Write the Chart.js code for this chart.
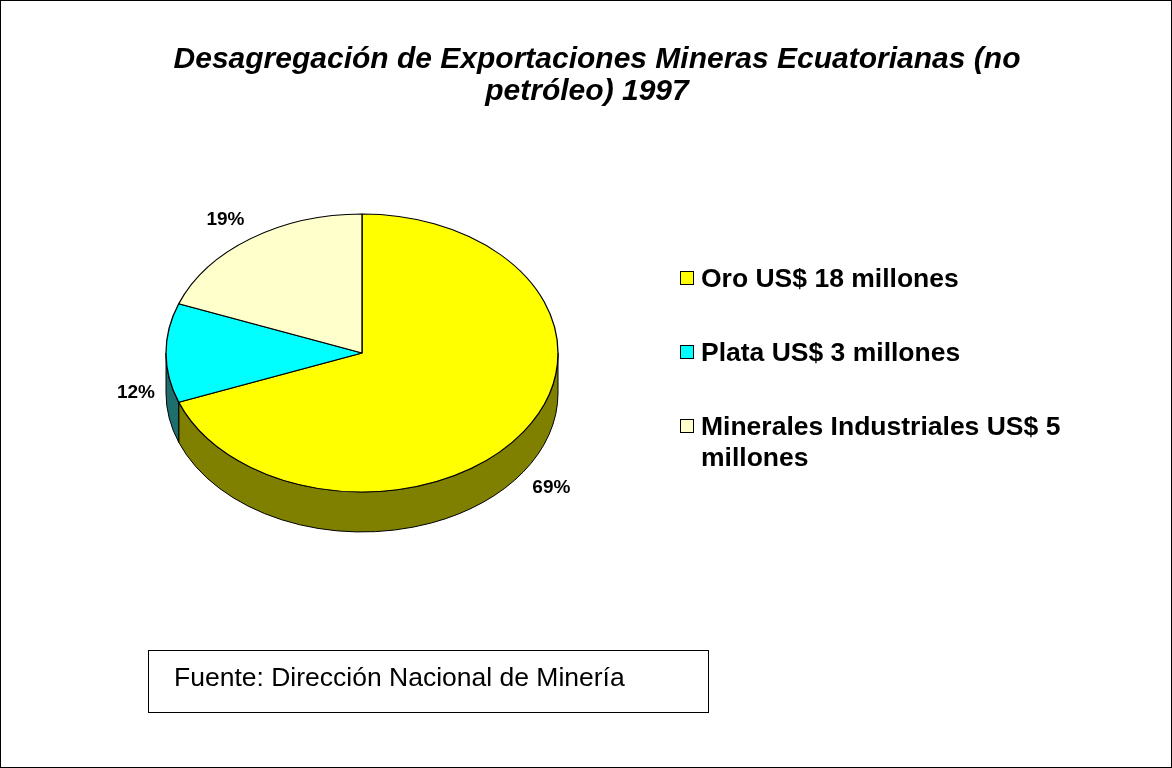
<!DOCTYPE html>
<html>
<head>
<meta charset="utf-8">
<script src="https://cdn.jsdelivr.net/npm/chart.js@4/dist/chart.umd.min.js"></script>
<style>
    body { margin: 0; background: #fff; }
    #frame {
        position: relative;
        width: 1172px;
        height: 768px;
        box-sizing: border-box;
        border: 1px solid #000;
        overflow: hidden;
        font-family: "Liberation Sans", Arial, sans-serif;
    }
    #chart { position: absolute; left: 0; top: 0; }
    #title {
        position: absolute;
        left: 46px;
        width: 1100px;
        top: 41px;
        text-align: center;
        font-size: 30px;
        line-height: 32px;
        font-weight: bold;
        font-style: italic;
    }
    #title .line2 { position: relative; left: -10px; }
    #legend {
        position: absolute;
        left: 679px;
        top: 262px;
        width: 420px;
    }
    .legend-item {
        display: flex;
        align-items: flex-start;
        margin-bottom: 43px;
    }
    .legend-box {
        flex: none;
        width: 12px;
        height: 12px;
        border: 1px solid #000;
        margin-top: 8px;
        margin-right: 7px;
    }
    .legend-text {
        width: 390px;
        font-size: 26.5px;
        line-height: 31px;
        font-weight: bold;
    }
    #source {
        position: absolute;
        left: 147px;
        top: 649px;
        width: 561px;
        height: 63px;
        box-sizing: border-box;
        border: 1px solid #000;
        padding-left: 25px;
        font-size: 26.5px;
        line-height: 52px;
    }
</style>
</head>
<body>
<div id="frame">
    <canvas id="chart" width="1172" height="768"></canvas>
    <div id="title">Desagregación de Exportaciones Mineras Ecuatorianas (no<br><span class="line2">petróleo) 1997</span></div>
    <div id="legend"></div>
    <div id="source">Fuente: Dirección Nacional de Minería</div>
</div>

<script>
const categories = ['Oro US$ 18 millones', 'Plata US$ 3 millones', 'Minerales Industriales US$ 5 millones'];
const values = [18, 3, 5];
const topColors = ['#FFFF00', '#00FFFF', '#FFFFCC'];
const sideColors = ['#808000', '#1E6E6E', '#808066'];

const tilt = 0.709;
const depth = 40;

const total = values.reduce((a, b) => a + b, 0);
const percentLabels = values.map(v => Math.round(v / total * 100) + '%');


function buildLegend() {
    let html = '';
    for (let i = 0; i < categories.length; i++) {
        html += `<div class="legend-item">
            <span class="legend-box" style="background:${topColors[i]}"></span>
            <span class="legend-text">${categories[i]}</span>
        </div>`;
    }
    document.getElementById('legend').innerHTML = html;
}


// draws the pie squashed into an ellipse, with a side wall underneath
const pie3d = {
    id: 'pie3d',
    beforeDatasetsDraw(chart) {
        const ctx = chart.ctx;
        const arcs = chart.getDatasetMeta(0).data;
        const cx = arcs[0].x, cy = arcs[0].y, r = arcs[0].outerRadius;
        const ry = r * tilt;

        ctx.save();
        ctx.lineWidth = 1;
        ctx.strokeStyle = '#000';
        arcs.forEach((arc, i) => {
            let a1 = Math.max(arc.startAngle, 0);
            let a2 = Math.min(arc.endAngle, Math.PI);
            if (a2 <= a1) return;
            ctx.beginPath();
            ctx.ellipse(cx, cy, r, ry, 0, a1, a2);
            ctx.ellipse(cx, cy + depth, r, ry, 0, a2, a1, true);
            ctx.closePath();
            ctx.fillStyle = sideColors[i];
            ctx.fill();
            ctx.stroke();
        });
        ctx.restore();

        ctx.save();
        ctx.translate(cx, cy);
        ctx.scale(1, tilt);
        ctx.translate(-cx, -cy);
    },
    afterDatasetsDraw(chart) {
        const ctx = chart.ctx;
        ctx.restore();

        const arcs = chart.getDatasetMeta(0).data;
        const cx = arcs[0].x, cy = arcs[0].y, r = arcs[0].outerRadius;
        const ry = r * tilt;

        ctx.save();
        ctx.font = 'bold 19px "Liberation Sans", Arial, sans-serif';
        ctx.fillStyle = '#000';
        ctx.textBaseline = 'middle';
        arcs.forEach((arc, i) => {
            const mid = (arc.startAngle + arc.endAngle) / 2;
            const dx = Math.cos(mid), dy = Math.sin(mid);
            const x = cx + (r + 11) * dx;
            let y = cy + (ry + 12) * dy + (dy > 0 ? depth : 0);
            y += 9 * Math.max(-1, Math.min(1, dy * 2));
            ctx.textAlign = dx > 0.1 ? 'left' : (dx < -0.1 ? 'right' : 'center');
            ctx.fillText(percentLabels[i], x, y);
        });
        ctx.restore();
    }
};


buildLegend();

new Chart(document.getElementById('chart'), {
    type: 'pie',
    data: {
        labels: categories,
        datasets: [{
            data: values,
            backgroundColor: topColors,
            borderColor: '#000',
            borderWidth: 1.3,
            radius: 196,
        }]
    },
    options: {
        responsive: false,
        animation: false,
        events: [],
        layout: {
            padding: { left: 165, right: 615, top: 156, bottom: 220 }
        },
        plugins: {
            legend: { display: false },
            tooltip: { enabled: false },
            title: { display: false }
        }
    },
    plugins: [pie3d]
});
</script>
</body>
</html>
